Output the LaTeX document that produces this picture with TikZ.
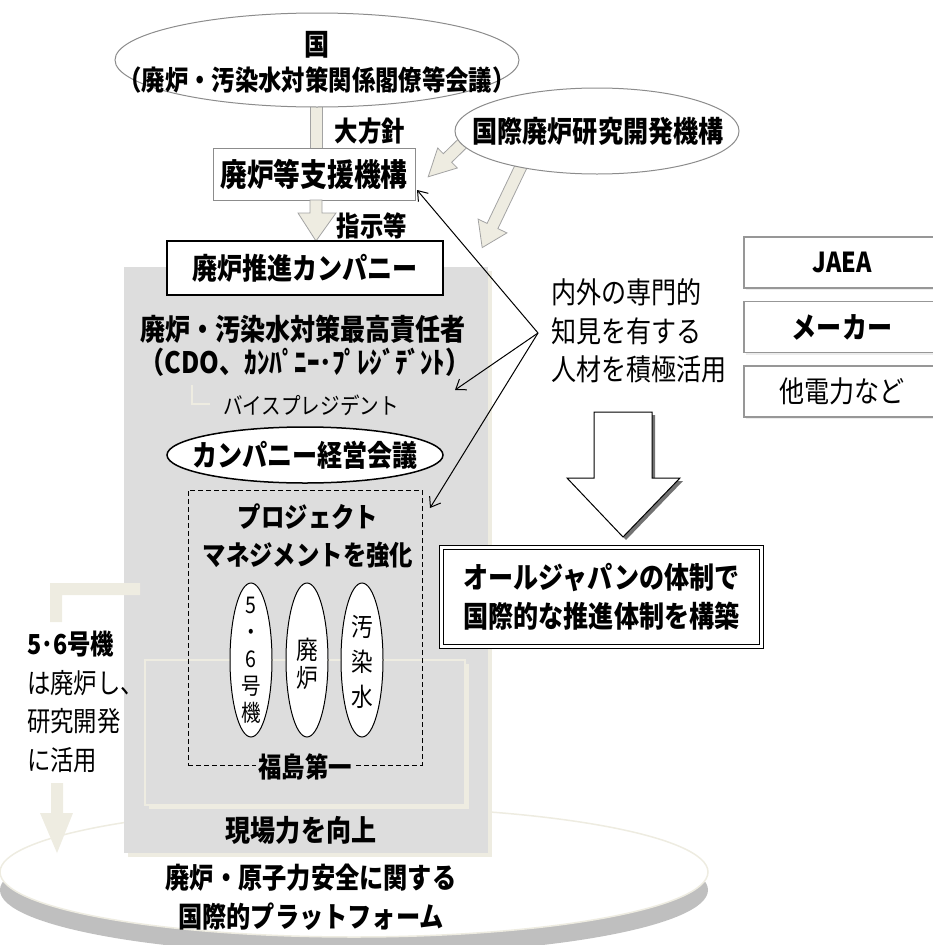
\documentclass[tikz,border=0pt]{standalone}
\usepackage{fontspec}
\setmainfont{Noto Sans CJK JP}[FakeStretch=0.85]
\usetikzlibrary{arrows.meta,shapes.geometric,shadows}
\definecolor{beige}{HTML}{EEECE1}
\definecolor{boxgray}{HTML}{DDDDDD}
\definecolor{edgegray}{HTML}{8C8C8C}
\definecolor{platgray}{HTML}{BFBFBF}
\newcommand\fs[2]{\fontsize{#1}{#2}\selectfont}
\begin{document}
\begin{tikzpicture}[x=1pt,y=-1pt,
  txt/.style={inner sep=0pt, align=center},
  beigearrow/.style={fill=beige, draw=edgegray!80, line width=0.8pt},
  thinarr/.style={line width=1pt, -{Straight Barb[length=9pt,width=13pt]}},
  graybox/.style={draw=edgegray, fill=white, line width=1pt, inner sep=0pt},
  sidebox/.style={draw=edgegray!90, fill=white, line width=1.2pt, inner sep=0pt,
     minimum width=196pt, minimum height=51pt,
     drop shadow={shadow xshift=2pt, shadow yshift=-2pt, fill=black!15}},
  oval/.style={ellipse, draw=black, fill=white, line width=1pt, inner sep=0pt},
]
\useasboundingbox (0,0) rectangle (933,945);

% platform disc
\fill[platgray] (354,890) ellipse [x radius=354, y radius=65];
\filldraw[fill=white, draw=beige, line width=1.5pt] (354,872) ellipse [x radius=354, y radius=65];

% company area
\fill[beige] (128,271) rectangle (492,857);
\fill[boxgray] (124,267) rectangle (488,853);
\fill[beige] (149,664) rectangle (469,809);
\filldraw[fill=boxgray, draw=beige, line width=1.5pt] (145,660) rectangle (465,805);

% left L arrow
\fill[beige] (50,583) -- (140,583) -- (140,595) -- (62,595) -- (62,622) -- (50,622) -- cycle;
\fill[beige] (51,783) -- (63,783) -- (63,813) -- (73,813) -- (57,853) -- (40,813) -- (51,813) -- cycle;
\node[txt, align=left, anchor=west, font=\fs{27.5}{38.5}] (left) at (27,702) {{\bfseries 5･6号機}\\は廃炉し、\\研究開発\\に活用};

% top: government
\filldraw[beigearrow] (310,104) rectangle (322,150);
\node[ellipse, draw=edgegray, fill=white, line width=1pt, minimum width=404pt, minimum height=94pt, inner sep=0pt] (gov) at (317,60) {};
\node[txt, font=\fs{29.5}{34}\bfseries] (govt1) at (317,45) {国};
\node[txt, font=\fs{27.5}{32}\bfseries] (govt2) at (317,80) {（廃炉・汚染水対策関係閣僚等会議）};
\node[txt, font=\fs{27.5}{32}\bfseries] (taiho) at (370,131) {大方針};

% IRID arrows and ellipse
\filldraw[beigearrow] (464.8,132.7) -- (443.3,153.7) -- (437.7,148) -- (428.2,176.8) -- (457.3,168) -- (451.7,162.3) -- (473.2,141.3) -- cycle;
\filldraw[beigearrow] (519.4,155.9) -- (487.1,223.4) -- (478.1,219.1) -- (482.2,247.6) -- (506.9,232.9) -- (497.9,228.6) -- (530.2,161.1) -- cycle;
\node[ellipse, draw=edgegray, fill=white, line width=1pt, minimum width=284pt, minimum height=86pt, inner sep=0pt] (irid) at (597,131) {};
\node[txt, font=\fs{29.5}{34}\bfseries] (iridt) at (598,131) {国際廃炉研究開発機構};

% support organisation
\node[graybox, minimum width=202pt, minimum height=52pt, font=\fs{31.5}{36}\bfseries] (ndf) at (314,174) {廃炉等支援機構};
\filldraw[beigearrow] (310,200) -- (322,200) -- (322,213) -- (336,213) -- (316,241) -- (298,213) -- (310,213) -- cycle;
\node[txt, font=\fs{27.5}{32}\bfseries] (shiji) at (372,226) {指示等};

% company
\node[draw=black, fill=white, line width=1.5pt, inner sep=0pt, minimum width=276pt, minimum height=54pt, font=\fs{29.5}{34}\bfseries] (comp) at (305,268) {廃炉推進カンパニー};
\node[txt, font=\fs{29.5}{34}\bfseries] (cdo1) at (303,329) {廃炉・汚染水対策最高責任者};
\node[txt, font=\fs{29.5}{34}\bfseries] (cdo2) at (305,362) {（CDO、ｶﾝﾊﾟﾆｰ･ﾌﾟﾚｼﾞﾃﾞﾝﾄ）};
\draw[beige, line width=2pt] (192,385) -- (192,404) -- (210,404);
\node[txt, font=\fs{23}{26}] (vp) at (311,405) {バイスプレジデント};
\node[oval, line width=1.5pt, minimum width=276pt, minimum height=56pt] (mtg) at (305,455) {};
\node[txt, font=\fs{29.5}{34}\bfseries] (mtgt) at (305,455) {カンパニー経営会議};

% project management
\node[draw=black, dashed, dash pattern=on 5pt off 3pt, line width=1pt, inner sep=0pt, minimum width=234pt, minimum height=275pt] (pm) at (305,627.5) {};
\node[txt, font=\fs{27.5}{38}\bfseries] (pmt) at (308,536) {プロジェクト\\マネジメントを強化};
\node[oval, minimum width=42pt, minimum height=154pt] (u56) at (251,660) {};
\node[oval, minimum width=42pt, minimum height=154pt] (dec) at (307,660) {};
\node[oval, minimum width=42pt, minimum height=154pt] (wat) at (362,660) {};
\node[txt, font=\fs{23}{27}] (u56t) at (251,660) {5\\・\\6\\号\\機};
\node[txt, font=\fs{25.5}{28}] (dect) at (307,664) {廃\\炉};
\node[txt, font=\fs{25.5}{35}] (watt) at (362,662) {汚\\染\\水};
\node[txt, fill=boxgray, inner xsep=2pt, font=\fs{27.5}{32}\bfseries] (f1) at (305,767) {福島第一};
\node[txt, font=\fs{29.5}{34}\bfseries] (genba) at (301,830) {現場力を向上};

% platform text
\node[txt, font=\fs{28.5}{39}\bfseries] (plat) at (311,897) {廃炉・原子力安全に関する\\国際的プラットフォーム};

% right side
\node[txt, align=left, anchor=west, font=\fs{29.5}{38.5}] (expert) at (551,331) {内外の専門的\\知見を有する\\人材を積極活用};
\coordinate (hub) at (538,333);
\coordinate (tipA) at (417,190);
\coordinate (tipB) at (455,390);
\coordinate (tipC) at (430,508);
\draw[thinarr] (hub) -- (tipA);
\draw[thinarr] (hub) -- (tipB);
\draw[thinarr] (hub) -- (tipC);

\node[sidebox, font=\fs{27.5}{32}\bfseries] (jaea) at (842,262.5) {JAEA};
\node[sidebox, font=\fs{29.5}{34}\bfseries] (maker) at (842,327) {メーカー};
\node[sidebox, font=\fs{29.5}{34}] (elec) at (842,391.5) {他電力など};

% big arrow
\fill[black!55] (597,415) -- (655,415) -- (655,481) -- (683,481) -- (626,540) -- (570,481) -- (597,481) -- cycle;
\filldraw[fill=white, draw=black, line width=1pt] (594,412) -- (652,412) -- (652,478) -- (680,478) -- (623,537) -- (567,478) -- (594,478) -- cycle;

\node[draw=black, fill=white, line width=1pt, double=white, double distance=2.5pt, inner sep=0pt, minimum width=320pt, minimum height=99pt, font=\fs{29.5}{39}\bfseries, align=center] (japan) at (601.5,597) {オールジャパンの体制で\\国際的な推進体制を構築};
\end{tikzpicture}
\end{document}
